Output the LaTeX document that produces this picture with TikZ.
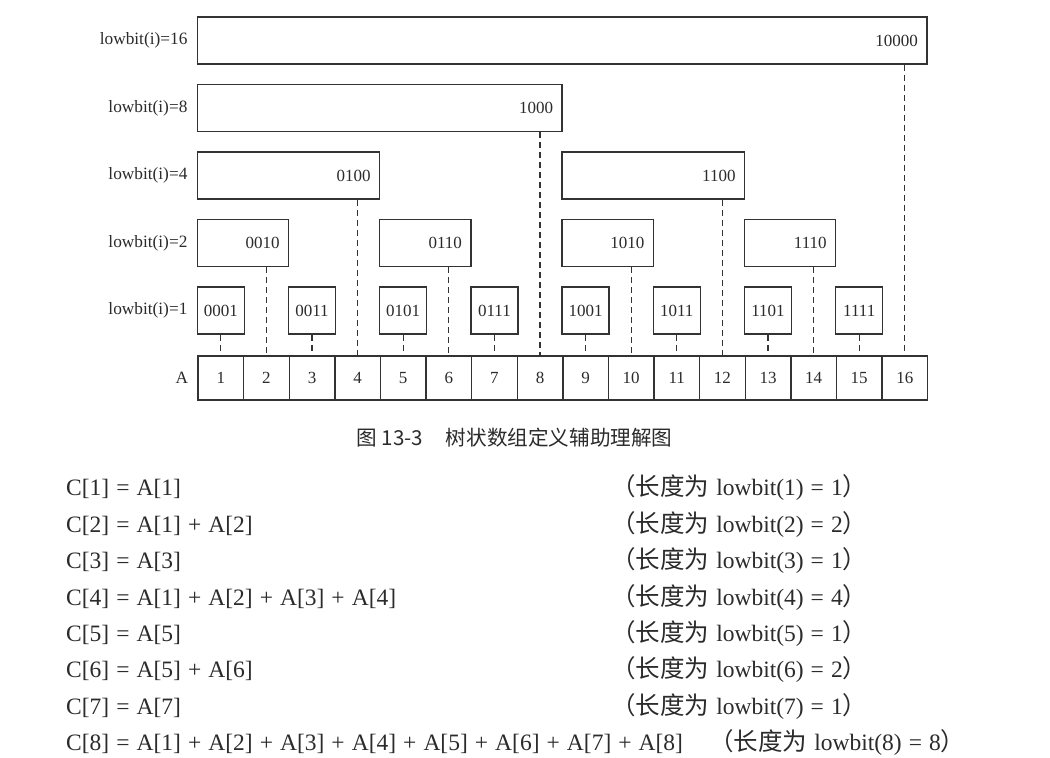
\documentclass[tikz,border=0pt]{standalone}
\usepackage{fontspec}
\setmainfont{Liberation Serif}
\newfontfamily\cjk{Noto Sans CJK SC}
\usetikzlibrary{positioning}
\definecolor{ink}{gray}{0.17}
\definecolor{rule}{gray}{0.2}
\newcommand\notecjk[1]{{\cjk\fontsize{24.5}{24}\selectfont #1}}
\tikzset{
  cbox/.style={draw=rule, line width=1.4pt, minimum height=47pt, inner xsep=9pt, inner ysep=0pt, align=right, font=\fontsize{17}{17}\selectfont, text=ink},
  leafbox/.style={draw=rule, line width=1.4pt, minimum height=47pt, minimum width=47pt, inner sep=0pt, font=\fontsize{17}{17}\selectfont, text=ink},
  acell/.style={draw=rule, line width=1.4pt, minimum width=45.6pt, minimum height=44pt, inner sep=0pt, font=\fontsize{17}{17}\selectfont, text=ink},
  rowlabel/.style={inner sep=0pt, font=\fontsize{17.3}{17}\selectfont, text=ink},
  link/.style={draw=rule, line width=1.3pt, dash pattern=on 6pt off 4pt},
  eqline/.style={anchor=base west, inner sep=0pt, font=\fontsize{23.5}{24}\selectfont, text=ink, execute at begin node={\spaceskip=0.3em\relax}},
}

\begin{document}
\begin{tikzpicture}[x=1pt, y=1pt]
\useasboundingbox[fill=white] (0,0) rectangle (1050,758);

% array A
\foreach \i in {1,...,16}
  \node[acell] (a\i) at ({198+(\i-0.5)*45.6}, 380) {\i};
\node[rowlabel, left=9pt of a1] (rowA) {A};

% C boxes: leaves first, then the wider ones
\foreach \i/\lbl in {1/0001, 3/0011, 5/0101, 7/0111, 9/1001, 11/1011, 13/1101, 15/1111}
  \node[leafbox] (c\i) at ({198+(\i-0.5)*45.6}, 447.5) {\lbl};
\foreach \i/\k/\lbl in {2/1/0010, 6/1/0110, 10/1/1010, 14/1/1110, 4/2/0100, 12/2/1100, 8/3/1000, 16/4/10000} {
  \pgfmathsetmacro\w{2^\k*45.6-18}
  \node[cbox, text width=\w pt, anchor=east] (c\i) at ({198+\i*45.6}, {447.5+67.5*\k}) {\lbl};
}

% dashed drops to the array
\foreach \i in {1,...,16}
  \draw[link] (a\i.north |- c\i.south) -- (a\i.north);

\foreach \j in {1,2,4,8,16}
  \node[rowlabel, left=9pt of c\j] (lb\j) {lowbit(i)=\j};

\node[font=\cjk\fontsize{20.6}{21}\selectfont, text=ink] (cap) at (514.5, 320) {图 13-3\hspace{1.1em}树状数组定义辅助理解图};

% the sums
\foreach \n/\rhs in {1/{A[1]}, 2/{A[1] + A[2]}, 3/{A[3]}, 4/{A[1] + A[2] + A[3] + A[4]}, 5/{A[5]}, 6/{A[5] + A[6]}, 7/{A[7]}, 8/{A[1] + A[2] + A[3] + A[4] + A[5] + A[6] + A[7] + A[8]}}
  \node[eqline] (eq\n) at (66, {262-36.4*(\n-1)}) {C[\n] = \rhs};
\foreach \n/\len in {1/1, 2/2, 3/1, 4/4, 5/1, 6/2, 7/1}
  \node[eqline] (note\n) at (611, {262-36.4*(\n-1)}) {\notecjk{（长度为} lowbit(\n) = \len\notecjk{）}};
\node[eqline] (note8) at (709, {262-36.4*7}) {\notecjk{（长度为} lowbit(8) = 8\notecjk{）}};
\end{tikzpicture}
\end{document}
